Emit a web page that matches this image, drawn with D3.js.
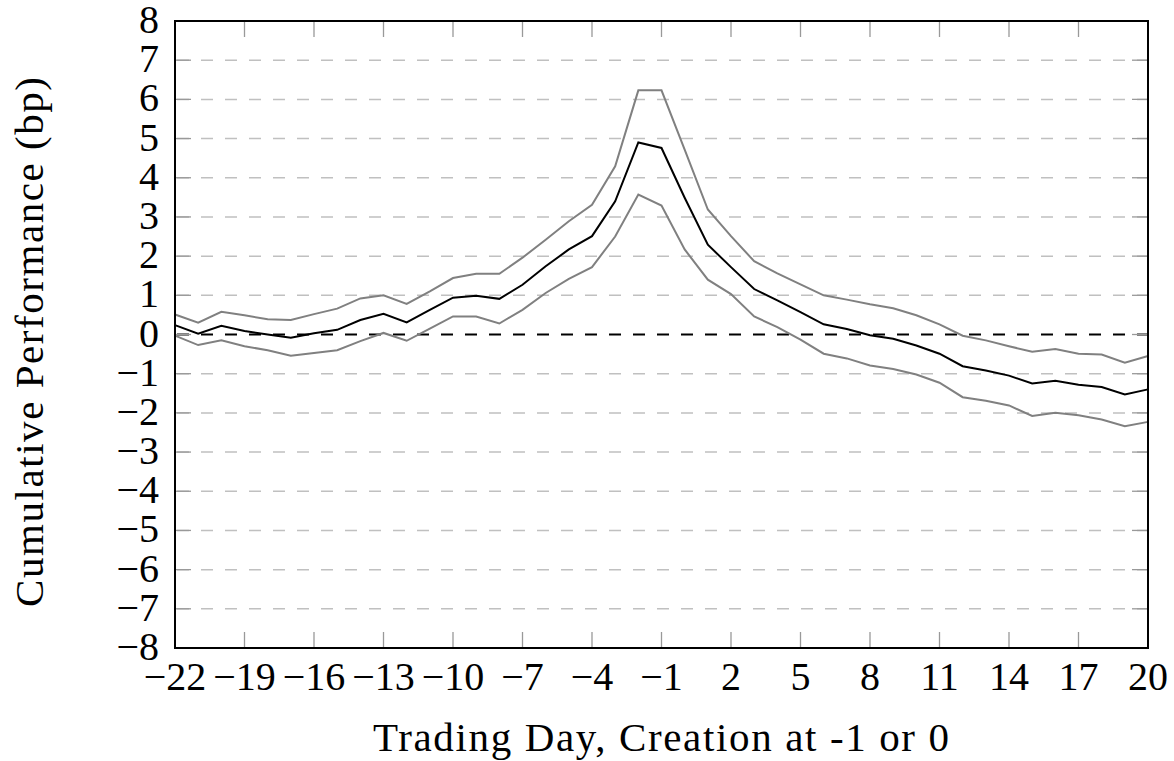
<!DOCTYPE html>
<html>
<head>
<meta charset="utf-8">
<script src="https://cdn.jsdelivr.net/npm/d3@7"></script>
<style>
  body { margin: 0; background: #fff; }
</style>
</head>
<body>
<div id="chart"></div>
<script>
// trading days relative to creation
var days = [-22, -21, -20, -19, -18, -17, -16, -15, -14, -13, -12, -11, -10, -9, -8,
    -7, -6, -5, -4, -3, -2, -1, 0, 1, 2, 3, 4, 5, 6, 7, 8, 9, 10, 11, 12, 13, 14,
    15, 16, 17, 18, 19, 20];

var meanPerf = [0.24, 0.02, 0.22, 0.09, 0.0, -0.08, 0.03, 0.12, 0.37, 0.53, 0.31, 0.63, 0.94, 0.99, 0.91,
    1.27, 1.74, 2.17, 2.51, 3.4, 4.9, 4.76, 3.49, 2.29, 1.72, 1.16, 0.87, 0.57, 0.26, 0.14, -0.02,
    -0.11, -0.28, -0.49, -0.81, -0.92, -1.05, -1.25, -1.18, -1.28, -1.34, -1.53, -1.40];

var upperBand = [0.51, 0.30, 0.58, 0.49, 0.39, 0.37, 0.52, 0.66, 0.92, 1.0, 0.78, 1.1, 1.44, 1.55, 1.55,
    1.96, 2.42, 2.89, 3.31, 4.29, 6.23, 6.23, 4.72, 3.19, 2.51, 1.87, 1.56, 1.28, 1.0, 0.89, 0.77,
    0.67, 0.49, 0.26, -0.03, -0.15, -0.3, -0.44, -0.37, -0.49, -0.51, -0.72, -0.55];

var lowerBand = [-0.03, -0.27, -0.15, -0.3, -0.4, -0.54, -0.47, -0.4, -0.17, 0.04, -0.16, 0.15, 0.46, 0.46, 0.28,
    0.63, 1.06, 1.42, 1.72, 2.5, 3.57, 3.29, 2.17, 1.4, 1.03, 0.46, 0.19, -0.13, -0.49, -0.61, -0.79,
    -0.88, -1.02, -1.23, -1.6, -1.69, -1.81, -2.08, -2.0, -2.06, -2.17, -2.34, -2.23];

var xTicks = [-22, -19, -16, -13, -10, -7, -4, -1, 2, 5, 8, 11, 14, 17, 20];
var yTicks = [-8, -7, -6, -5, -4, -3, -2, -1, 0, 1, 2, 3, 4, 5, 6, 7, 8];

var FONT = "Liberation Serif";

var width = 1174, height = 761;
var margin = {top: 21, right: 26, bottom: 113, left: 175};
var w = width - margin.left - margin.right;
var h = height - margin.top - margin.bottom;

var svg = d3.select("#chart").append("svg")
    .attr("width", width)
    .attr("height", height);

var g = svg.append("g")
    .attr("transform", "translate(" + margin.left + "," + margin.top + ")");

var x = d3.scaleLinear().domain([-22, 20]).range([0, w]);
var y = d3.scaleLinear().domain([-8, 8]).range([h, 0]);

var fmt = function (d) { return d < 0 ? "\u2212" + Math.abs(d) : "" + d; };

// horizontal dashed grid
g.selectAll(".grid")
    .data(yTicks.filter(function (d) { return d != 0 && d != 8 && d != -8; }))
    .enter().append("line")
    .attr("x1", 0).attr("x2", w)
    .attr("y1", function (d) { return y(d); })
    .attr("y2", function (d) { return y(d); })
    .attr("stroke", "#c0c0c0")
    .attr("stroke-width", 1.5)
    .attr("stroke-dasharray", "12,12")
    .attr("stroke-dashoffset", -2);

// zero line
g.append("line")
    .attr("x1", 0).attr("x2", w)
    .attr("y1", y(0)).attr("y2", y(0))
    .attr("stroke", "#000")
    .attr("stroke-width", 1.8)
    .attr("stroke-dasharray", "12,12")
    .attr("stroke-dashoffset", -2);

// inner ticks
var tickLen = 16;
g.selectAll(".xtb").data(xTicks).enter().append("line")
    .attr("x1", function (d) { return x(d); }).attr("x2", function (d) { return x(d); })
    .attr("y1", h).attr("y2", h - tickLen)
    .attr("stroke", "#999").attr("stroke-width", 1.3);
g.selectAll(".xtt").data(xTicks).enter().append("line")
    .attr("x1", function (d) { return x(d); }).attr("x2", function (d) { return x(d); })
    .attr("y1", 0).attr("y2", tickLen)
    .attr("stroke", "#999").attr("stroke-width", 1.3);
g.selectAll(".ytl").data(yTicks).enter().append("line")
    .attr("x1", 0).attr("x2", tickLen)
    .attr("y1", function (d) { return y(d); }).attr("y2", function (d) { return y(d); })
    .attr("stroke", "#999").attr("stroke-width", 1.3);
g.selectAll(".ytr").data(yTicks).enter().append("line")
    .attr("x1", w).attr("x2", w - tickLen)
    .attr("y1", function (d) { return y(d); }).attr("y2", function (d) { return y(d); })
    .attr("stroke", "#999").attr("stroke-width", 1.3);

// lines
var line = function (vals) {
    return d3.line()
        .x(function (d, i) { return x(days[i]); })
        .y(function (d) { return y(d); })(vals);
};

g.append("path").attr("d", line(upperBand))
    .attr("fill", "none").attr("stroke", "#808080").attr("stroke-width", 2);
g.append("path").attr("d", line(lowerBand))
    .attr("fill", "none").attr("stroke", "#808080").attr("stroke-width", 2);
g.append("path").attr("d", line(meanPerf))
    .attr("fill", "none").attr("stroke", "#000").attr("stroke-width", 2);

// frame
g.append("rect")
    .attr("x", 0).attr("y", 0).attr("width", w).attr("height", h)
    .attr("fill", "none").attr("stroke", "#000").attr("stroke-width", 2);

// tick labels
g.selectAll(".xl").data(xTicks).enter().append("text")
    .attr("x", function (d) { return x(d); })
    .attr("y", h + 42)
    .attr("text-anchor", "middle")
    .attr("font-family", FONT)
    .attr("font-size", 40)
    .text(fmt);

g.selectAll(".yl").data(yTicks).enter().append("text")
    .attr("x", -16)
    .attr("y", function (d) { return y(d) + 12; })
    .attr("text-anchor", "end")
    .attr("font-family", FONT)
    .attr("font-size", 40)
    .text(fmt);

// axis titles
svg.append("text")
    .attr("x", 661)
    .attr("y", 751)
    .attr("text-anchor", "middle")
    .attr("font-family", FONT)
    .attr("font-size", 41)
    .attr("textLength", 576)
    .attr("lengthAdjust", "spacing")
    .text("Trading Day, Creation at -1 or 0");

svg.append("text")
    .attr("transform", "translate(43,342) rotate(-90)")
    .attr("text-anchor", "middle")
    .attr("font-family", FONT)
    .attr("font-size", 41)
    .attr("textLength", 530)
    .attr("lengthAdjust", "spacing")
    .text("Cumulative Performance (bp)");
</script>
</body>
</html>
